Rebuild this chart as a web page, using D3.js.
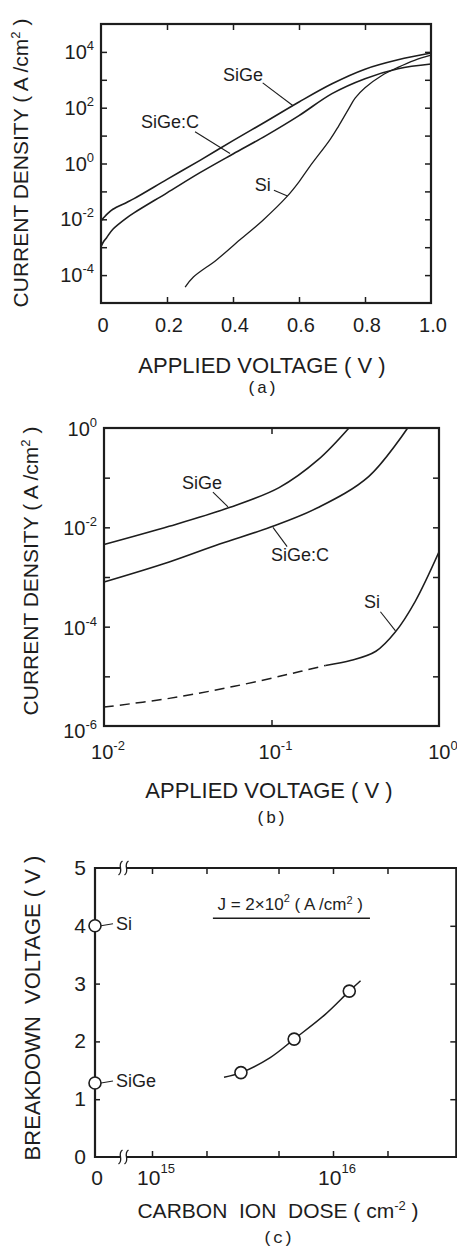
<!DOCTYPE html>
<html>
<head>
<meta charset="utf-8">
<script src="https://cdn.jsdelivr.net/npm/d3@7"></script>
<style>
  body { margin: 0; background: #fff; }
  svg { display: block; }
  text { font-family: "Liberation Sans", Arial, sans-serif; fill: #1d1d1d; }
  .mono { font-family: "Liberation Mono", "DejaVu Sans Mono", monospace; }
</style>
</head>
<body>
<svg id="fig" width="457" height="1248"></svg>
<script>
// ---- (a) current density vs applied voltage (linear V) ----
const aVoltSiGe = [0, 0.01, 0.02, 0.036, 0.079, 0.1, 0.2, 0.3, 0.4, 0.5, 0.6, 0.7, 0.8, 0.9, 1.0];
const aJSiGe    = [8.7e-3, 1.2e-2, 1.6e-2, 2.3e-2, 4.1e-2, 5.5e-2, 0.27, 1.3, 6.6, 32, 160, 720, 2400, 5200, 9100];
const aVoltSiGeC = [0, 0.008, 0.017, 0.036, 0.079, 0.1, 0.2, 0.3, 0.4, 0.5, 0.6, 0.7, 0.8, 0.9, 1.0];
const aJSiGeC    = [1.05e-3, 1.6e-3, 2.2e-3, 4.4e-3, 1.15e-2, 1.7e-2, 8.9e-2, 0.47, 2.2, 10, 52, 320, 1100, 2500, 3700];
const aVoltSi = [0.255, 0.28, 0.35, 0.42, 0.49, 0.564, 0.6, 0.633, 0.694, 0.72, 0.75, 0.77, 0.8, 0.85, 0.9, 0.95, 1.0];
const aJSi    = [3.7e-5, 8.5e-5, 3.5e-4, 1.8e-3, 9.1e-3, 6.6e-2, 0.22, 0.79, 7.2, 22, 89, 220, 520, 1400, 2800, 5000, 7600];
const aXTicks = [0, 0.2, 0.4, 0.6, 0.8, 1.0];
const aXTickLabels = ['0', '0.2', '0.4', '0.6', '0.8', '1.0'];
const aYExp = [4, 2, 0, -2, -4];

// ---- (b) current density vs applied voltage (log V) ----
const bVoltSiGe = [0.01, 0.0245, 0.056, 0.111, 0.19, 0.29];
const bJSiGe    = [4.5e-3, 1.05e-2, 2.5e-2, 6.3e-2, 0.23, 1.0];
const bVoltSiGeC = [0.01, 0.0245, 0.049, 0.098, 0.19, 0.38, 0.65];
const bJSiGeC    = [7.9e-4, 2.0e-3, 4.6e-3, 1.0e-2, 2.5e-2, 0.105, 1.0];
const bVoltSi = [0.01, 0.0245, 0.06, 0.15, 0.21, 0.30, 0.42, 0.55, 0.72, 1.0];
const bJSi    = [2.4e-6, 3.6e-6, 6.3e-6, 1.26e-5, 1.66e-5, 2.1e-5, 3.2e-5, 7.9e-5, 3.2e-4, 3.2e-3];
const bSiDashedUpTo = 0.21;   // extrapolated part drawn dashed
const bXExp = [-2, -1, 0];
const bYExp = [0, -2, -4, -6];

// ---- (c) breakdown voltage vs carbon ion dose ----
const cZeroNames = ['Si', 'SiGe'];
const cZeroBV = [4.0, 1.28];
const cDose = [3.1e15, 6.1e15, 1.23e16];
const cBV = [1.46, 2.04, 2.87];
const cFitDose = [2.5e15, 3.1e15, 4.5e15, 6.1e15, 9e15, 1.23e16, 1.42e16];
const cFitBV = [1.38, 1.46, 1.72, 2.04, 2.46, 2.87, 3.05];
const cYTicks = [0, 1, 2, 3, 4, 5];
const cXTicks = [1e15, 2e15, 5e15, 1e16, 2e16];
const cXExp = [15, 16];
const cDoseMax = 4.8e16;

const ink = '#1d1d1d';
const svg = d3.select('#fig');
const zip = (xs, ys) => xs.map((x, i) => [x, ys[i]]);

function powText(g, x, y, exp, o) {
  const t = g.append('text').attr('x', x).attr('y', y)
    .attr('text-anchor', o.anchor).attr('font-size', o.size);
  t.append('tspan').text('10');
  t.append('tspan').attr('dy', -o.raise).attr('font-size', o.sup).text(exp);
  return t;
}

function frameAxes(g, x, y, xt, yt) {
  const [x0, x1] = x.range(), [y0, y1] = y.range();
  const inward = (ax) => ax.tickSize(-6).tickFormat('');
  const style = s => { s.select('.domain').remove(); s.selectAll('line').attr('stroke', ink).attr('stroke-width', 1.5); };
  g.append('g').attr('transform', `translate(${x0},0)`).call(inward(d3.axisLeft(y).tickValues(yt))).call(style);
  g.append('g').attr('transform', `translate(${x1},0)`).call(inward(d3.axisRight(y).tickValues(yt))).call(style);
  g.append('g').attr('transform', `translate(0,${y0})`).call(inward(d3.axisBottom(x).tickValues(xt))).call(style);
  g.append('g').attr('transform', `translate(0,${y1})`).call(inward(d3.axisTop(x).tickValues(xt))).call(style);
  g.append('rect').attr('x', x0).attr('y', y1).attr('width', x1 - x0).attr('height', y0 - y1)
    .attr('fill', 'none').attr('stroke', ink).attr('stroke-width', 2.2);
}

function curve(g, x, y, pts, w, dash) {
  g.append('path').datum(pts)
    .attr('d', d3.line().x(d => x(d[0])).y(d => y(d[1])).curve(d3.curveCatmullRom.alpha(0.5)))
    .attr('fill', 'none').attr('stroke', ink).attr('stroke-width', w)
    .attr('stroke-dasharray', dash || null);
}

function tagLabels(g, x, y, list) {
  list.forEach(l => {
    g.append('line').attr('x1', x(l.from[0])).attr('y1', y(l.from[1]))
      .attr('x2', x(l.to[0])).attr('y2', y(l.to[1]))
      .attr('stroke', ink).attr('stroke-width', 1.1);
    g.append('text').attr('x', x(l.at[0])).attr('y', y(l.at[1])).attr('dy', '0.35em')
      .attr('text-anchor', 'middle').attr('font-size', 18).text(l.text);
  });
}

function yTitle(g, x, y, size, main, sup, tail) {
  const t = g.append('text').attr('transform', `translate(${x},${y}) rotate(-90)`)
    .attr('text-anchor', 'middle').attr('font-size', size);
  t.append('tspan').text(main);
  t.append('tspan').attr('dy', -8).attr('font-size', size * 0.62).text(sup);
  t.append('tspan').attr('dy', 8).text(tail);
}

// ================= (a) =================
{
  const g = svg.append('g');
  const x = d3.scaleLinear().domain([0, 1]).range([101, 431]);
  const y = d3.scaleLog().domain([1e-5, 1e5]).range([303, 24]);

  curve(g, x, y, zip(aVoltSiGe, aJSiGe), 1.6);
  curve(g, x, y, zip(aVoltSiGeC, aJSiGeC), 1.6);
  curve(g, x, y, zip(aVoltSi, aJSi), 1.3);

  frameAxes(g, x, y, [0.2, 0.4, 0.6, 0.8], d3.range(-4, 5).map(e => 10 ** e));

  g.selectAll('.xl').data(aXTicks).join('text')
    .attr('x', d => x(d) + 2).attr('y', 332).attr('text-anchor', 'middle')
    .attr('font-size', 20).text((d, i) => aXTickLabels[i]);
  aYExp.forEach(e => powText(g, 94, y(10 ** e) + 7, e, { anchor: 'end', size: 20, sup: 13, raise: 9 }));

  tagLabels(g, x, y, [
    { text: 'SiGe', at: [0.43, 1510], from: [0.49, 776], to: [0.582, 117] },
    { text: 'SiGe:C', at: [0.209, 31.6], from: [0.285, 13.8], to: [0.391, 2.3] },
    { text: 'Si', at: [0.49, 0.178], from: [0.524, 0.11], to: [0.565, 0.068] }
  ]);

  yTitle(g, 28, 163, 21, 'CURRENT DENSITY ( A /cm', '2', ' )');
  g.append('text').attr('x', 262).attr('y', 373).attr('text-anchor', 'middle')
    .attr('font-size', 22).text('APPLIED VOLTAGE ( V )');
  g.append('text').attr('class', 'mono').attr('x', 262).attr('y', 393).attr('text-anchor', 'middle')
    .attr('font-size', 17).text('(a)');
}

// ================= (b) =================
{
  const g = svg.append('g');
  const x = d3.scaleLog().domain([1e-2, 1]).range([104, 439]);
  const y = d3.scaleLog().domain([1e-6, 1]).range([726, 428]);

  curve(g, x, y, zip(bVoltSiGe, bJSiGe), 1.6);
  curve(g, x, y, zip(bVoltSiGeC, bJSiGeC), 1.6);
  const si = zip(bVoltSi, bJSi);
  curve(g, x, y, si.filter(d => d[0] <= bSiDashedUpTo), 1.5, '10,6');
  curve(g, x, y, si.filter(d => d[0] >= bSiDashedUpTo), 1.5);

  frameAxes(g, x, y, [0.1], d3.range(-5, 0).map(e => 10 ** e));

  bXExp.forEach(e => powText(g, x(10 ** e) + 4, 759, e, { anchor: 'middle', size: 20, sup: 13, raise: 9 }));
  bYExp.forEach(e => powText(g, 97, y(10 ** e) + (e === -6 ? 12 : 8), e, { anchor: 'end', size: 20, sup: 13, raise: 9 }));

  tagLabels(g, x, y, [
    { text: 'SiGe', at: [0.0385, 0.081], from: [0.0447, 0.051], to: [0.055, 0.0257] },
    { text: 'SiGe:C', at: [0.148, 2.75e-3], from: [0.102, 1.0e-2], to: [0.124, 4.1e-3] },
    { text: 'Si', at: [0.398, 3.2e-4], from: [0.447, 2.0e-4], to: [0.55, 8.2e-5] }
  ]);

  yTitle(g, 38, 571, 21, 'CURRENT DENSITY ( A /cm', '2', ' )');
  g.append('text').attr('x', 269).attr('y', 798).attr('text-anchor', 'middle')
    .attr('font-size', 22).text('APPLIED VOLTAGE ( V )');
  g.append('text').attr('class', 'mono').attr('x', 271).attr('y', 823).attr('text-anchor', 'middle')
    .attr('font-size', 17).text('(b)');
}

// ================= (c) =================
{
  const g = svg.append('g');
  const y = d3.scaleLinear().domain([0, 5]).range([1157, 868]);
  const x = d3.scaleLog().domain([1e15, 1e16]).range([152, 333]);
  const xz = d3.scaleLinear().domain([0, 1]).range([95, 152]);   // the "0" dose part left of the break
  const xL = xz(0), xR = x(cDoseMax), yB = y(0), yT = y(5);

  // frame
  g.append('path').attr('d', `M${xL},${yT}H${xR}V${yB}H${xL}Z`)
    .attr('fill', 'none').attr('stroke', ink).attr('stroke-width', 2.2);
  const style = s => { s.select('.domain').remove(); s.selectAll('line').attr('stroke', ink).attr('stroke-width', 1.5); };
  const yMid = [1, 2, 3, 4];
  g.append('g').attr('transform', `translate(${xL},0)`).call(d3.axisLeft(y).tickValues(yMid).tickSize(-5).tickFormat('')).call(style);
  g.append('g').attr('transform', `translate(${xR},0)`).call(d3.axisRight(y).tickValues(yMid).tickSize(-6).tickFormat('')).call(style);
  g.append('g').attr('transform', `translate(0,${yB})`).call(d3.axisBottom(x).tickValues(cXTicks).tickSize(-6).tickFormat('')).call(style);
  g.append('g').attr('transform', `translate(0,${yT})`).call(d3.axisTop(x).tickValues(cXTicks).tickSize(-6).tickFormat('')).call(style);

  // axis break marks
  const bx = xz(0.5);
  [yT, yB].forEach(yy => {
    g.append('rect').attr('x', bx - 3).attr('y', yy - 3).attr('width', 6).attr('height', 6).attr('fill', '#fff');
    [bx - 3, bx + 3].forEach(px => {
      g.append('path').attr('d', `M${px - 2},${yy + 7} C${px + 4},${yy + 3} ${px - 4},${yy - 3} ${px + 2},${yy - 7}`)
        .attr('fill', 'none').attr('stroke', ink).attr('stroke-width', 1.3);
    });
  });

  // fit curve and markers
  curve(g, x, y, zip(cFitDose, cFitBV), 1.5);
  g.selectAll('.pt').data(zip(cDose, cBV)).join('circle')
    .attr('cx', d => x(d[0])).attr('cy', d => y(d[1])).attr('r', 6)
    .attr('fill', '#fff').attr('stroke', ink).attr('stroke-width', 1.6);
  g.selectAll('.zp').data(cZeroBV).join('circle')
    .attr('cx', xz(0)).attr('cy', d => y(d)).attr('r', 6)
    .attr('fill', '#fff').attr('stroke', ink).attr('stroke-width', 1.6);
  cZeroBV.forEach((v, i) => {
    g.append('line').attr('x1', xz(0) + 6).attr('y1', y(v)).attr('x2', xz(0) + 18).attr('y2', y(v) - 2)
      .attr('stroke', ink).attr('stroke-width', 1.1);
    g.append('text').attr('x', xz(0) + 21).attr('y', y(v) + 4).attr('font-size', 18).text(cZeroNames[i]);
  });

  // J annotation
  const jt = g.append('text').attr('x', x(2.3e15)).attr('y', y(4.27)).attr('font-size', 17);
  jt.append('tspan').text('J = 2×10');
  jt.append('tspan').attr('dy', -8).attr('font-size', 11).text('2');
  jt.append('tspan').attr('dy', 8).text(' ( A /cm');
  jt.append('tspan').attr('dy', -6).attr('font-size', 11).text('2');
  jt.append('tspan').attr('dy', 6).text(' )');
  g.append('line').attr('x1', x(2.17e15)).attr('x2', x(1.6e16)).attr('y1', y(4.13)).attr('y2', y(4.13))
    .attr('stroke', ink).attr('stroke-width', 1.4);

  // tick labels
  g.selectAll('.yl').data(cYTicks).join('text')
    .attr('x', 86).attr('y', d => y(d) + 7).attr('text-anchor', 'end').attr('font-size', 21).text(d => d);
  g.append('text').attr('x', xz(0) + 2).attr('y', 1185).attr('text-anchor', 'middle').attr('font-size', 21).text('0');
  cXExp.forEach(e => powText(g, x(10 ** e) + 4, 1185, e, { anchor: 'middle', size: 21, sup: 13, raise: 12 }));

  // titles
  g.append('text').attr('transform', `translate(40,1008) rotate(-90)`).attr('text-anchor', 'middle')
    .attr('font-size', 22).text('BREAKDOWN\u00a0 VOLTAGE ( V )');
  const xt = g.append('text').attr('x', 278).attr('y', 1218).attr('text-anchor', 'middle').attr('font-size', 21);
  xt.append('tspan').text('CARBON\u00a0 ION\u00a0 DOSE ( cm');
  xt.append('tspan').attr('dy', -8).attr('font-size', 13).text('-2');
  xt.append('tspan').attr('dy', 8).text(' )');
  g.append('text').attr('class', 'mono').attr('x', 278).attr('y', 1243).attr('text-anchor', 'middle')
    .attr('font-size', 17).text('(c)');
}
</script>
</body>
</html>
